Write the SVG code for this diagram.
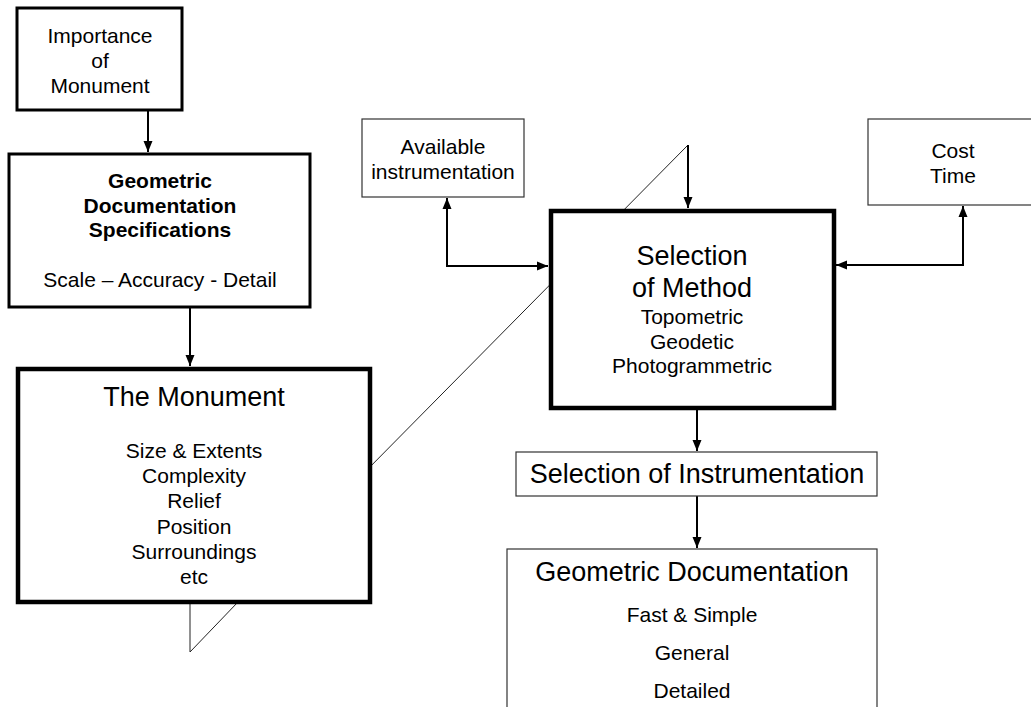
<svg xmlns="http://www.w3.org/2000/svg" width="1031" height="707" viewBox="0 0 1031 707">
<style>
text{font-family:"Liberation Sans",Arial,sans-serif;fill:#000;text-anchor:middle}
.s21{font-size:21px}
.s27{font-size:27px}
.b{font-weight:bold}
.thick{fill:#fff;stroke:#000;stroke-width:3}
.heavy{fill:#fff;stroke:#000;stroke-width:4.5}
.thin{fill:#fff;stroke:#333;stroke-width:1.2}
.conn{fill:none;stroke:#000;stroke-width:2}
.hair{fill:none;stroke:#222;stroke-width:1}
</style>
<defs>
<marker id="ah" markerUnits="userSpaceOnUse" markerWidth="12" markerHeight="10" refX="11" refY="5" orient="auto-start-reverse">
<path d="M0,0.5 L11,5 L0,9.5 z" fill="#000"/>
</marker>
</defs>
<g id="connectors">
<path class="hair" d="M360,477 L688,145"/>
<path class="hair" d="M190,602 L190,652 L238,602"/>
<path class="conn" d="M688,145 L688,208" marker-end="url(#ah)"/>
<path class="conn" d="M148,110 L148,152" marker-end="url(#ah)"/>
<path class="conn" d="M190,307 L190,366" marker-end="url(#ah)"/>
<path class="conn" d="M447,198 L447,266 L548,266" marker-start="url(#ah)" marker-end="url(#ah)"/>
<path class="conn" d="M963,206 L963,265 L836,265" marker-start="url(#ah)" marker-end="url(#ah)"/>
<path class="conn" d="M697,410 L697,451" marker-end="url(#ah)"/>
<path class="conn" d="M697,496 L697,548" marker-end="url(#ah)"/>
</g>
<g id="importance">
<rect class="thick" x="17" y="8" width="165" height="102"/>
<text class="s21" x="100" y="43">Importance</text>
<text class="s21" x="100" y="68">of</text>
<text class="s21" x="100" y="93">Monument</text>
</g>
<g id="specifications">
<rect class="thick" x="9" y="154" width="301" height="153"/>
<text class="s21 b" x="160" y="188">Geometric</text>
<text class="s21 b" x="160" y="213">Documentation</text>
<text class="s21 b" x="160" y="237">Specifications</text>
<text class="s21" x="160" y="287">Scale – Accuracy - Detail</text>
</g>
<g id="monument">
<rect class="heavy" x="18" y="369" width="352" height="233"/>
<text class="s27" x="194" y="406">The Monument</text>
<text class="s21" x="194" y="458">Size &amp; Extents</text>
<text class="s21" x="194" y="483">Complexity</text>
<text class="s21" x="194" y="508">Relief</text>
<text class="s21" x="194" y="534">Position</text>
<text class="s21" x="194" y="559">Surroundings</text>
<text class="s21" x="194" y="584">etc</text>
</g>
<g id="available">
<rect class="thin" x="362" y="119" width="162" height="78"/>
<text class="s21" x="443" y="154">Available</text>
<text class="s21" x="443" y="179">instrumentation</text>
</g>
<g id="costtime">
<rect class="thin" x="868" y="119" width="170" height="86"/>
<text class="s21" x="953" y="158">Cost</text>
<text class="s21" x="953" y="183">Time</text>
</g>
<g id="method">
<rect class="heavy" x="551" y="211" width="283" height="197"/>
<text class="s27" x="692" y="265">Selection</text>
<text class="s27" x="692" y="297">of Method</text>
<text class="s21" x="692" y="324">Topometric</text>
<text class="s21" x="692" y="349">Geodetic</text>
<text class="s21" x="692" y="373">Photogrammetric</text>
</g>
<g id="instrumentation">
<rect class="thin" x="516" y="452" width="361" height="44"/>
<text class="s27" x="697" y="483">Selection of Instrumentation</text>
</g>
<g id="geodoc">
<rect class="thin" x="507" y="549" width="370" height="180"/>
<text class="s27" x="692" y="581">Geometric Documentation</text>
<text class="s21" x="692" y="622">Fast &amp; Simple</text>
<text class="s21" x="692" y="660">General</text>
<text class="s21" x="692" y="698">Detailed</text>
</g>
</svg>
